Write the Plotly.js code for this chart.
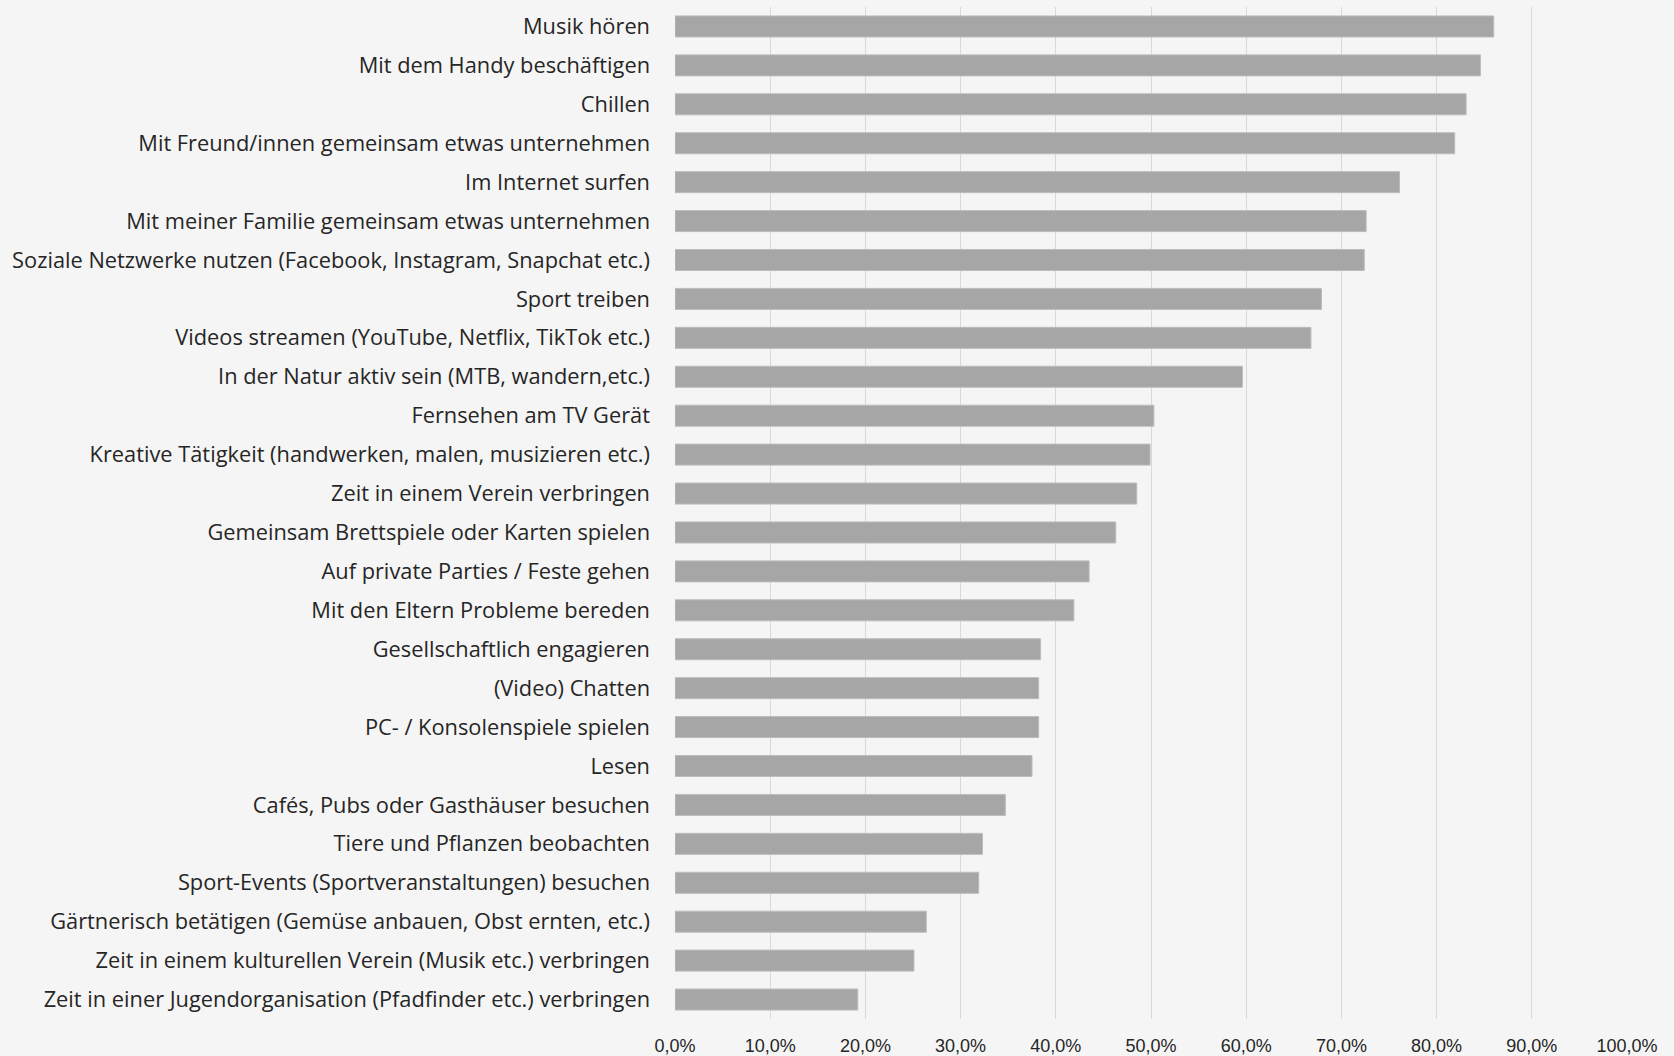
<!DOCTYPE html>
<html>
<head>
<meta charset="utf-8">
<script src="https://cdn.plot.ly/plotly-3.0.1.min.js"></script>
<style>
  html, body { margin: 0; padding: 0; background: #f5f5f5; }
  #chart { width: 1674px; height: 1056px; }
</style>
</head>
<body>
<div id="chart"></div>
<script>
const categories = [
  "Musik hören",
  "Mit dem Handy beschäftigen",
  "Chillen",
  "Mit Freund/innen gemeinsam etwas unternehmen",
  "Im Internet surfen",
  "Mit meiner Familie gemeinsam etwas unternehmen",
  "Soziale Netzwerke nutzen (Facebook, Instagram, Snapchat etc.)",
  "Sport treiben",
  "Videos streamen (YouTube, Netflix, TikTok etc.)",
  "In der Natur aktiv sein (MTB, wandern,etc.)",
  "Fernsehen am TV Gerät",
  "Kreative Tätigkeit (handwerken, malen, musizieren etc.)",
  "Zeit in einem Verein verbringen",
  "Gemeinsam Brettspiele oder Karten spielen",
  "Auf private Parties / Feste gehen",
  "Mit den Eltern Probleme bereden",
  "Gesellschaftlich engagieren",
  "(Video) Chatten",
  "PC- / Konsolenspiele spielen",
  "Lesen",
  "Cafés, Pubs oder Gasthäuser besuchen",
  "Tiere und Pflanzen beobachten",
  "Sport-Events (Sportveranstaltungen) besuchen",
  "Gärtnerisch betätigen (Gemüse anbauen, Obst ernten, etc.)",
  "Zeit in einem kulturellen Verein (Musik etc.) verbringen",
  "Zeit in einer Jugendorganisation (Pfadfinder etc.) verbringen"
];
const values = [
  86.0, 84.6, 83.1, 81.9, 76.1, 72.6, 72.4, 67.9, 66.8, 59.6,
  50.3, 49.9, 48.5, 46.3, 43.5, 41.9, 38.4, 38.2, 38.2, 37.5,
  34.7, 32.3, 31.9, 26.4, 25.1, 19.2
];
const xTicks = [0, 10, 20, 30, 40, 50, 60, 70, 80, 90, 100];
const xTickLabels = ["0,0%", "10,0%", "20,0%", "30,0%", "40,0%", "50,0%", "60,0%", "70,0%", "80,0%", "90,0%", "100,0%"];

const trace = {
  type: 'bar',
  orientation: 'h',
  x: values,
  y: categories,
  marker: { color: '#a6a6a6', line: { color: '#bcbcbc', width: 1 } },
  width: 0.54,
  hoverinfo: 'x+y'
};

const layout = {
  width: 1674,
  height: 1056,
  paper_bgcolor: '#f5f5f5',
  plot_bgcolor: '#f5f5f5',
  margin: { l: 675, r: 47, t: 7, b: 37 },
  separators: ',.',
  showlegend: false,
  font: { family: 'Open Sans, Liberation Sans, Arial, sans-serif', color: '#262626' },
  xaxis: {
    range: [0, 100],
    tickmode: 'array',
    tickvals: xTicks,
    ticktext: xTickLabels,
    showgrid: true,
    gridcolor: '#d9d9d9',
    gridwidth: 1,
    zeroline: false,
    showline: false,
    ticks: '',
    ticklabelstandoff: 14,
    tickfont: { family: 'Liberation Sans Narrow, Liberation Sans, Arial, sans-serif', size: 18, color: '#262626' },
    fixedrange: true
  },
  yaxis: {
    type: 'category',
    autorange: 'reversed',
    showgrid: false,
    zeroline: false,
    showline: false,
    ticks: '',
    ticklabelstandoff: 24,
    tickfont: { family: 'Open Sans, Liberation Sans, Arial, sans-serif', size: 21.8, color: '#262626' },
    fixedrange: true
  }
};

Plotly.newPlot('chart', [trace], layout, { displayModeBar: false, staticPlot: true });
</script>
</body>
</html>
